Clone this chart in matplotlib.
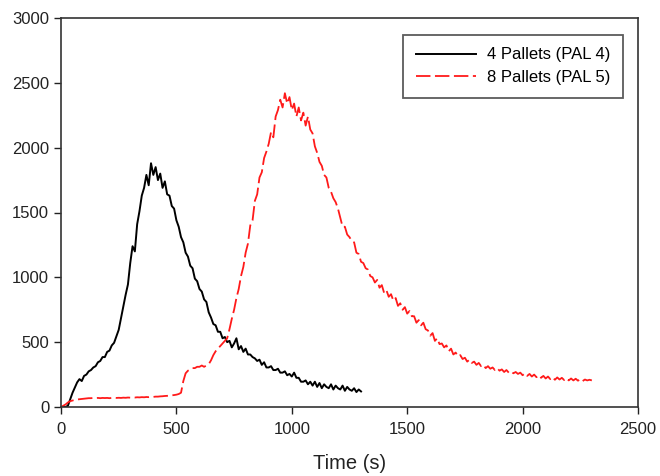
import numpy as np
import matplotlib
matplotlib.use("Agg")
import matplotlib.pyplot as plt

plt.rcParams['font.family'] = ['Liberation Sans', 'DejaVu Sans']

# Sample times (s)
time_pal4 = np.arange(0, 1310, 10)
time_pal5 = np.arange(0, 2310, 10)

# 4 Pallets (PAL 4) heat release values
hrr_pal4 = [
    0, 0, 0, 10, 60, 110, 150, 190, 215, 200,
    240, 250, 275, 285, 305, 315, 345, 355, 385, 385,
    425, 435, 475, 495, 545, 595, 685, 775, 865, 945,
    1110, 1240, 1200, 1410, 1510, 1630, 1690, 1790, 1710, 1880,
    1790, 1850, 1750, 1800, 1690, 1740, 1640, 1630, 1550, 1530,
    1440, 1390, 1310, 1270, 1190, 1160, 1090, 1070, 990, 970,
    910, 890, 830, 810, 730, 690, 640, 630, 580, 580,
    530, 540, 500, 510, 460, 490, 530, 445, 470, 425,
    450, 405, 405, 385, 375, 355, 365, 325, 345, 305,
    305, 315, 285, 285, 295, 265, 265, 275, 245, 255,
    235, 265, 225, 225, 195, 195, 205, 175, 195, 165,
    195, 155, 185, 145, 175, 155, 145, 175, 135, 165,
    145, 135, 165, 125, 155, 135, 125, 145, 115, 135,
    120,
]

# 8 Pallets (PAL 5) heat release values
hrr_pal5 = [
    0, 10, 20, 35, 45, 50, 55, 58, 60, 62,
    64, 66, 68, 68, 70, 69, 70, 68, 70, 69,
    70, 68, 70, 72, 70, 71, 70, 72, 71, 73,
    72, 74, 73, 75, 74, 76, 75, 77, 76, 78,
    78, 80, 80, 82, 83, 85, 86, 88, 90, 92,
    95, 100, 110, 200, 260, 280, 290, 300, 300, 310,
    310, 320, 310, 320, 330, 360, 400, 430, 450, 470,
    490, 510, 530, 600, 680, 750, 840, 910, 1010, 1080,
    1190, 1260, 1400, 1440, 1590, 1640, 1770, 1810, 1920, 1970,
    2030, 2120, 2080, 2240, 2290, 2370, 2310, 2420, 2340, 2390,
    2290, 2340, 2240, 2310, 2210, 2270, 2170, 2240, 2140, 2110,
    2010, 1960, 1890, 1860, 1790, 1770, 1690, 1660, 1610, 1580,
    1530, 1460, 1390, 1390, 1330, 1310, 1280, 1270, 1190, 1180,
    1120, 1110, 1070, 1060, 1010, 1000, 960, 980, 920, 940,
    880, 900, 850, 870, 820, 840, 780, 800, 750, 770,
    720, 740, 700, 700, 650, 670, 630, 650, 600, 590,
    550, 570, 510, 530, 485, 490, 460, 475, 430, 450,
    405, 420, 390, 400, 370, 380, 350, 365, 340, 350,
    325, 340, 315, 325, 300, 315, 295, 305, 285, 300,
    280, 290, 270, 285, 265, 275, 260, 270, 255, 265,
    245, 260, 240, 255, 235, 250, 230, 245, 225, 240,
    220, 235, 215, 230, 210, 228, 212, 225, 208, 222,
    205, 220, 205, 218, 203, 215, 200, 212, 205, 210,
    205,
]

fig = plt.figure(figsize=(6.6, 4.76), dpi=100)
ax = fig.add_axes([61 / 660, 1 - 407 / 476, (638 - 61) / 660, (407 - 18) / 476])

ax.plot(time_pal4, hrr_pal4, color='black', lw=1.4, label='4 Pallets (PAL 4)')
ax.plot(time_pal5, hrr_pal5, color='#ff1a1a', lw=1.3, linestyle=(0, (8, 2.5)),
        label='8 Pallets (PAL 5)')

ax.set_xlim(0, 2500)
ax.set_ylim(0, 3000)
ax.set_xticks([0, 500, 1000, 1500, 2000, 2500])
ax.set_yticks([0, 500, 1000, 1500, 2000, 2500, 3000])
ax.tick_params(axis='both', direction='out', length=5, width=1, labelsize=12,
               colors='#222222', top=False, right=False)
ax.tick_params(axis='x', pad=6)
for s in ax.spines.values():
    s.set_color('#333333')
    s.set_linewidth(1.2)

ax.set_xlabel('Time (s)', fontsize=14.5, color='#222222', labelpad=12)

leg = ax.legend(loc='upper left', bbox_to_anchor=(403 / 660, 1 - 35 / 476),
                bbox_transform=fig.transFigure, borderaxespad=0, fontsize=12,
                frameon=True, fancybox=False, handlelength=3.6,
                borderpad=0.75, labelspacing=0.45, handletextpad=0.7)
leg.get_frame().set_edgecolor('#333333')
leg.get_frame().set_linewidth(1.3)

fig.savefig('out.png', dpi=100)
